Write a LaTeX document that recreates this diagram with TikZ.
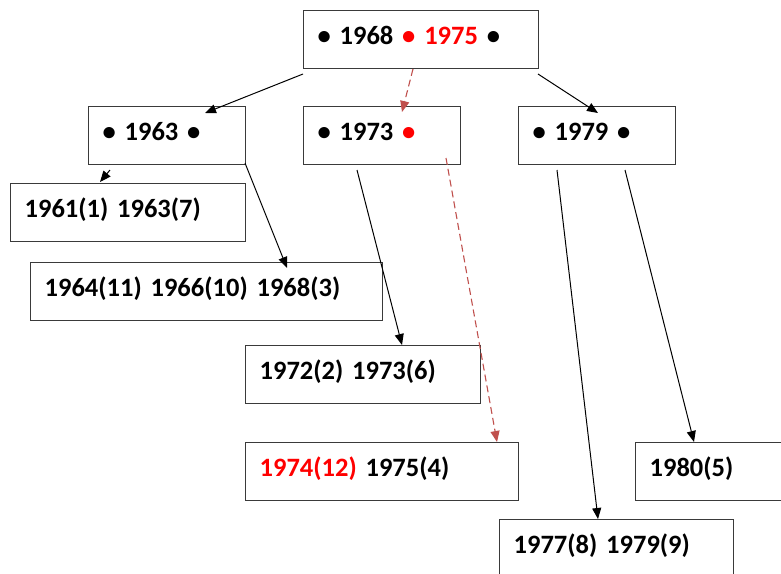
\documentclass[tikz,border=0pt]{standalone}
\usepackage{fontspec}
\setmainfont{Carlito}[WordSpace=0.7]
\usetikzlibrary{arrows.meta}
\definecolor{boxgray}{HTML}{3A3A3A}
\definecolor{dashred}{HTML}{C0504D}
\definecolor{hotred}{HTML}{FF0000}
\tikzset{
  box/.style={draw=boxgray, line width=1.3pt, inner xsep=14pt, inner ysep=0pt,
    text height=34pt, text depth=24pt, align=left, anchor=north west,
    font=\fontsize{26.5}{30}\selectfont\bfseries},
  link/.style={draw=black, line width=1pt, -{Triangle[length=11pt,width=9pt]}},
  redlink/.style={draw=dashred, line width=1.1pt, dash pattern=on 7pt off 4pt,
    -{Triangle[length=11pt,width=9pt]}}
}
\begin{document}
\begin{tikzpicture}[x=1pt,y=-1pt]
\useasboundingbox (0,0) rectangle (781,573);
\clip (0,0) rectangle (781,573);
\fill[white] (0,0) rectangle (781,573);
\node[box, text width=207pt] (top) at (303,10) {• 1968 \textcolor{hotred}{• 1975} •};
\node[box, text width=129pt] (n63) at (88,106) {• 1963 •};
\node[box, text width=129pt] (n73) at (303,106) {• 1973 \textcolor{hotred}{•}};
\node[box, text width=129pt] (n79) at (518,106) {• 1979 •};
\node[box, text width=207pt] (n61) at (10,183) {1961(1) 1963(7)};
\node[box, text width=324pt] (n64) at (30,262) {1964(11) 1966(10) 1968(3)};
\node[box, text width=207pt] (n72) at (245,345) {1972(2) 1973(6)};
\node[box, text width=245pt] (n74) at (245,442) {\textcolor{hotred}{1974(12)} 1975(4)};
\node[box, text width=172pt] (n80) at (635,442) {1980(5)};
\node[box, text width=206pt] (n77) at (499,519) {1977(8) 1979(9)};

\coordinate (a1) at (303,74);  \coordinate (b1) at (205,113);
\coordinate (a2) at (538,74);  \coordinate (b2) at (598,113);
\coordinate (a3) at (413,69);  \coordinate (b3) at (402,112);
\coordinate (a4) at (110,170); \coordinate (b4) at (100,182);
\coordinate (a5) at (245,163); \coordinate (b5) at (287,268);
\coordinate (a6) at (357,170); \coordinate (b6) at (402,345);
\coordinate (a7) at (446,158); \coordinate (b7) at (497,442);
\coordinate (a8) at (557,170); \coordinate (b8) at (598,519);
\coordinate (a9) at (625,170); \coordinate (b9) at (694,442);

\draw[link] (a1) -- (b1);
\draw[link] (a2) -- (b2);
\draw[redlink] (a3) -- (b3);
\draw[link] (a4) -- (b4);
\draw[link] (a5) -- (b5);
\draw[link] (a6) -- (b6);
\draw[redlink] (a7) -- (b7);
\draw[link] (a8) -- (b8);
\draw[link] (a9) -- (b9);
\end{tikzpicture}
\end{document}
